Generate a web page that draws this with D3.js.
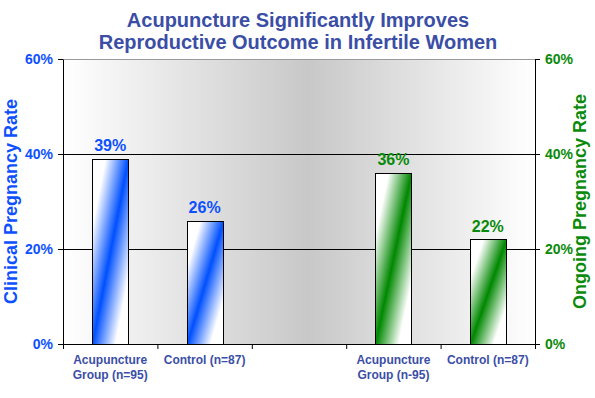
<!DOCTYPE html>
<html>
<head>
<meta charset="utf-8">
<script src="https://cdn.jsdelivr.net/npm/d3@7"></script>
<style>
  body { margin: 0; background: #fff; }
  text { font-family: "Liberation Sans", Arial, sans-serif; font-weight: bold; }
</style>
</head>
<body>
<svg class="chart"></svg>
<script>
// chart data
var categories = ["acu1", "ctl1", "gap", "acu2", "ctl2"];
var xLabels = [["Acupuncture", "Group (n=95)"], ["Control (n=87)"], [], ["Acupuncture", "Group (n-95)"], ["Control (n=87)"]];
var clinicalRate = [39, 26];
var ongoingRate = [36, 22];
var yTicks = [0, 20, 40, 60];
var titleLines = ["Acupuncture Significantly Improves", "Reproductive Outcome in Infertile Women"];

var width = 595, height = 398;
var plot = {left: 63, right: 535, top: 59, bottom: 344};

var blue = "#0d50ff", green = "#0a8a0a", navy = "#3b4ea6";

var svg = d3.select(".chart")
    .attr("width", width)
    .attr("height", height);

var defs = svg.append("defs");

var bg = defs.append("linearGradient").attr("id", "bgGrad");
bg.append("stop").attr("offset", "0%").attr("stop-color", "#ffffff");
bg.append("stop").attr("offset", "52%").attr("stop-color", "#c8c8c8");
bg.append("stop").attr("offset", "100%").attr("stop-color", "#ffffff");

function barGrad(id, color) {
  var g = defs.append("linearGradient").attr("id", id)
      .attr("x1", 0).attr("y1", 0).attr("x2", 1).attr("y2", 1);
  g.append("stop").attr("offset", "18%").attr("stop-color", "#ffffff");
  g.append("stop").attr("offset", "50%").attr("stop-color", color);
  g.append("stop").attr("offset", "82%").attr("stop-color", "#ffffff");
}
barGrad("blueGrad", "#0050ff");
barGrad("greenGrad", "#008800");

// scales
var x = d3.scaleBand()
    .domain(categories)
    .range([plot.left, plot.right])
    .paddingInner(0.62)
    .paddingOuter(0.31);

var xEdge = d3.scaleLinear()
    .domain([0, categories.length])
    .range([plot.left, plot.right]);

var y = d3.scaleLinear()
    .domain([0, 60])
    .range([plot.bottom, plot.top]);

// plot background
svg.append("rect")
    .attr("x", plot.left)
    .attr("y", plot.top)
    .attr("width", plot.right - plot.left)
    .attr("height", plot.bottom - plot.top)
    .style("fill", "url(#bgGrad)");

// gridlines
svg.selectAll(".grid")
    .data(yTicks.filter(function(d) { return d > 0; }))
  .enter().append("line")
    .attr("x1", plot.left)
    .attr("x2", plot.right)
    .attr("y1", function(d) { return y(d) + 0.5; })
    .attr("y2", function(d) { return y(d) + 0.5; })
    .style("stroke", function(d) { return d === 60 ? "#999" : "#000"; })
    .style("stroke-width", 1);

// bars
var bars = clinicalRate.map(function(v, i) { return {cat: categories[i], v: v, grad: "blueGrad", color: blue}; })
  .concat(ongoingRate.map(function(v, i) { return {cat: categories[i + 3], v: v, grad: "greenGrad", color: green}; }));

svg.selectAll(".bar")
    .data(bars)
  .enter().append("rect")
    .attr("class", "bar")
    .attr("x", function(d) { return Math.round(x(d.cat)) + 0.5; })
    .attr("width", Math.round(x.bandwidth()))
    .attr("y", function(d) { return Math.round(y(d.v)) + 0.5; })
    .attr("height", function(d) { return y(0) - Math.round(y(d.v)); })
    .style("fill", function(d) { return "url(#" + d.grad + ")"; })
    .style("stroke", "#000")
    .style("stroke-width", 1);

svg.selectAll(".val")
    .data(bars)
  .enter().append("text")
    .attr("x", function(d) { return x(d.cat) + x.bandwidth() / 2; })
    .attr("y", function(d) { return y(d.v) - 8; })
    .attr("text-anchor", "middle")
    .style("font-size", "16px")
    .style("fill", function(d) { return d.color; })
    .text(function(d) { return d.v + "%"; });

// axes
var xAxis = svg.append("g")
    .attr("transform", "translate(0," + plot.bottom + ")")
    .call(d3.axisBottom(xEdge).tickValues(d3.range(categories.length + 1)).tickFormat("").tickSize(5).tickSizeOuter(0));
xAxis.select(".domain").style("stroke", "#000");

var left = svg.append("g")
    .attr("transform", "translate(" + plot.left + ",0)")
    .call(d3.axisLeft(y).tickValues(yTicks).tickFormat(function(d) { return d + "%"; }).tickSize(5).tickSizeOuter(0).tickPadding(5));
left.selectAll("text").style("font-size", "14px").style("fill", blue).style("font-family", null);

var right = svg.append("g")
    .attr("transform", "translate(" + plot.right + ",0)")
    .call(d3.axisRight(y).tickValues(yTicks).tickFormat(function(d) { return d + "%"; }).tickSize(5).tickSizeOuter(0).tickPadding(5));
right.selectAll("text").style("font-size", "14px").style("fill", green).style("font-family", null);

// category labels
var lab = svg.selectAll(".xlab")
    .data(xLabels)
  .enter().append("text")
    .attr("text-anchor", "middle")
    .style("font-size", "12px")
    .style("fill", navy);
lab.each(function(lines, i) {
  d3.select(this).selectAll("tspan")
      .data(lines)
    .enter().append("tspan")
      .attr("x", xEdge(i + 0.5))
      .attr("y", function(d, j) { return 364 + j * 15; })
      .text(function(d) { return d; });
});

// axis titles
svg.append("text")
    .attr("transform", "translate(17," + (plot.top + plot.bottom) / 2 + ") rotate(-90)")
    .attr("text-anchor", "middle")
    .style("font-size", "18px")
    .style("fill", blue)
    .text("Clinical Pregnancy Rate");

svg.append("text")
    .attr("transform", "translate(586," + (plot.top + plot.bottom) / 2 + ") rotate(-90)")
    .attr("text-anchor", "middle")
    .style("font-size", "18px")
    .style("fill", green)
    .text("Ongoing Pregnancy Rate");

// title
svg.selectAll(".title")
    .data(titleLines)
  .enter().append("text")
    .attr("x", 298)
    .attr("y", function(d, i) { return 27 + i * 22; })
    .attr("text-anchor", "middle")
    .style("font-size", "20px")
    .style("fill", navy)
    .text(function(d) { return d; });
</script>
</body>
</html>
